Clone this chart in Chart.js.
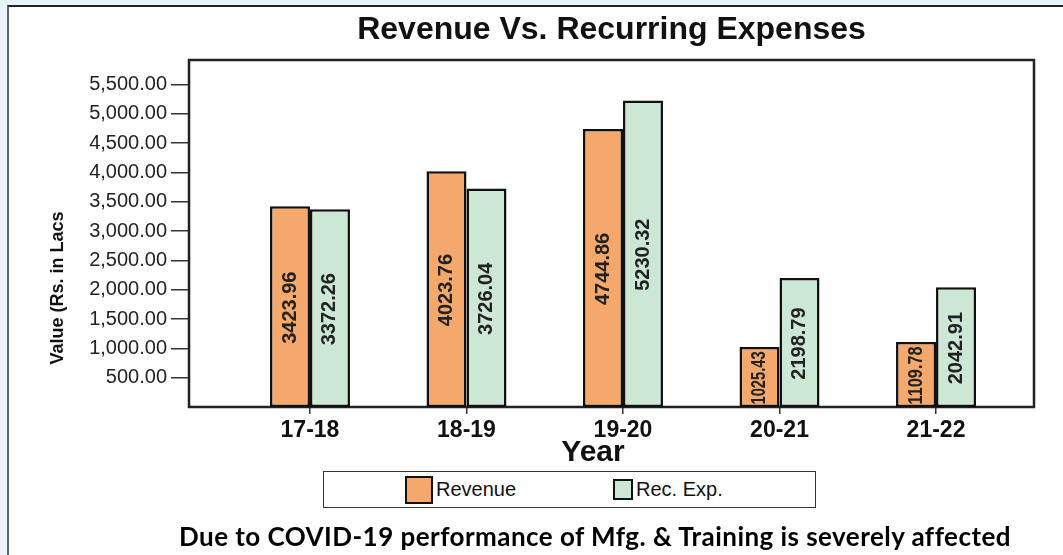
<!DOCTYPE html>
<html>
<head>
<meta charset="utf-8">
<script src="https://cdn.jsdelivr.net/npm/chart.js@4.4.0/dist/chart.umd.min.js"></script>
<style>
  html, body { margin: 0; padding: 0; }
  body { width: 1063px; height: 555px; background: #e8f4fc; position: relative; overflow: hidden;
         font-family: 'Liberation Sans', Arial, sans-serif; }
  #frame { position: absolute; left: 7px; top: 5px; right: 0; bottom: 0; background: #fff;
           border-left: 2px solid #5c666e; border-top: 2px solid #222; }
  #chart { position: absolute; left: 0; top: 0; }
  #legend { position: absolute; left: 323px; top: 471px; width: 493px; height: 37px;
            border: 1px solid #333; box-sizing: border-box; background: #fff; }
  .item { position: absolute; top: 0; height: 100%; display: flex; align-items: center;
          font-size: 20px; color: #111; }
  .sw { box-sizing: border-box; border: 2.5px solid #111; margin-right: 3px; }
  #note { position: absolute; left: 0; width: 1190px; top: 520px; text-align: center;
          font: bold 26px Lato, sans-serif; letter-spacing: 0.45px; color: #000; }
</style>
</head>
<body>
<div id="frame"></div>
<canvas id="chart" width="1063" height="555"></canvas>
<div id="legend"></div>
<div id="note">Due to COVID-19 performance of Mfg. &amp; Training is severely affected</div>
<script>
const years = ["17-18", "18-19", "19-20", "20-21", "21-22"];
const revenue = [3423.96, 4023.76, 4744.86, 1025.43, 1109.78];
const recExp = [3372.26, 3726.04, 5230.32, 2198.79, 2042.91];
const yTickValues = [500, 1000, 1500, 2000, 2500, 3000, 3500, 4000, 4500, 5000, 5500];

const seriesNames = ["Revenue", "Rec. Exp."];
const colors = ["#f4a86c", "#cde7d5"];

const narrow = "'Liberation Sans Narrow', 'Arial Narrow', 'Liberation Sans', sans-serif";

// outline round the plot area
const frameBox = {
    id: 'frameBox',
    beforeDatasetsDraw(chart) {
        const a = chart.chartArea, ctx = chart.ctx;
        ctx.save();
        ctx.strokeStyle = '#222';
        ctx.lineWidth = 2.5;
        ctx.strokeRect(a.left, a.top, a.right - a.left, a.bottom - a.top);
        ctx.restore();
    }
};

// values written vertically inside each bar
const barLabels = {
    id: 'barLabels',
    afterDatasetsDraw(chart) {
        const ctx = chart.ctx;
        chart.data.datasets.forEach((ds, di) => {
            chart.getDatasetMeta(di).data.forEach((bar, i) => {
                const h = bar.base - bar.y;
                ctx.save();
                ctx.translate(bar.x, (bar.y + bar.base) / 2 + 1);
                ctx.rotate(-Math.PI / 2);
                ctx.font = "bold 20px 'Liberation Sans', Arial, sans-serif";
                ctx.fillStyle = '#222';
                ctx.textAlign = 'center';
                ctx.textBaseline = 'middle';
                ctx.fillText(ds.data[i].y.toFixed(2), 0, 0, h - 7);
                ctx.restore();
            });
        });
    }
};

// axis titles
const axisTitles = {
    id: 'axisTitles',
    afterDraw(chart) {
        const a = chart.chartArea, ctx = chart.ctx;
        ctx.save();
        ctx.fillStyle = '#111';
        ctx.textAlign = 'center';
        ctx.textBaseline = 'middle';
        ctx.font = "bold 30px " + narrow;
        ctx.fillText("Year", a.left + 404, a.bottom + 46);
        ctx.translate(58, a.bottom - 119);
        ctx.rotate(-Math.PI / 2);
        ctx.font = "bold 18px 'Liberation Sans', Arial, sans-serif";
        ctx.fillText("Value (Rs. in Lacs", 0, 0);
        ctx.restore();
    }
};

new Chart(document.getElementById("chart"), {
    type: 'bar',
    data: {
        datasets: [revenue, recExp].map((vals, k) => ({
            label: seriesNames[k],
            data: years.map((y, i) => ({x: i, y: vals[i]})),
            backgroundColor: colors[k],
            borderColor: '#111',
            borderWidth: 2.5,
            borderSkipped: false,
            categoryPercentage: 0.511,
            barPercentage: 1
        }))
    },
    options: {
        responsive: false,
        animation: false,
        devicePixelRatio: 1,
        layout: {padding: {left: 0, right: 29, top: 0, bottom: 108}},
        plugins: {
            legend: {display: false},
            tooltip: {enabled: false},
            title: {
                display: true,
                fullSize: false,
                text: 'Revenue Vs. Recurring Expenses',
                color: '#111',
                font: {family: "'Liberation Sans', Arial, sans-serif", size: 32, weight: 'bold'},
                padding: {top: 11, bottom: 10.6}
            }
        },
        scales: {
            x: {
                type: 'linear',
                min: -0.773,
                max: 4.626,
                offset: false,
                border: {display: false},
                grid: {drawOnChartArea: false, drawTicks: true, tickLength: 7, color: '#333', lineWidth: 1.5, offset: false},
                ticks: {
                    color: '#111',
                    padding: 3,
                    maxRotation: 0,
                    autoSkip: false,
                    font: {family: narrow, size: 23, weight: 'bold'},
                    callback: v => years[v]
                },
                afterBuildTicks: s => { s.ticks = years.map((y, i) => ({value: i})); },
                afterFit: s => { s.height = 40; }
            },
            y: {
                min: 0,
                max: 5920,
                border: {display: false},
                grid: {drawOnChartArea: false, tickLength: 18, color: '#333', lineWidth: 1.5},
                ticks: {
                    color: '#222',
                    padding: 4,
                    font: {family: "'Liberation Sans', Arial, sans-serif", size: 20},
                    callback: v => v.toLocaleString('en-US', {minimumFractionDigits: 2, maximumFractionDigits: 2})
                },
                afterBuildTicks: s => { s.ticks = yTickValues.map(v => ({value: v})); },
                afterFit: s => { s.width = 189; }
            }
        }
    },
    plugins: [frameBox, barLabels, axisTitles]
});

// legend in a bordered box
const legend = document.getElementById('legend');
const legendPos = [81, 289];
const swatchSize = [[28, 28], [20, 21]];
seriesNames.forEach((name, k) => {
    const item = document.createElement('div');
    item.className = 'item';
    item.style.left = legendPos[k] + 'px';
    const sw = document.createElement('span');
    sw.className = 'sw';
    sw.style.width = swatchSize[k][0] + 'px';
    sw.style.height = swatchSize[k][1] + 'px';
    sw.style.background = colors[k];
    item.appendChild(sw);
    item.appendChild(document.createTextNode(name));
    legend.appendChild(item);
});
</script>
</body>
</html>
